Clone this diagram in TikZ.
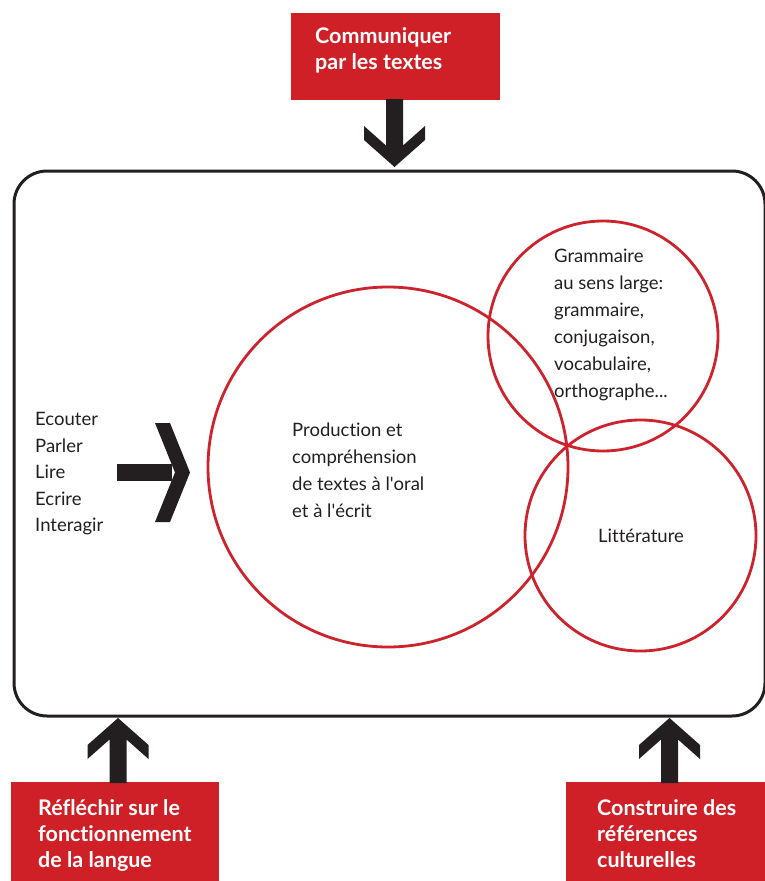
\documentclass[tikz,border=0pt]{standalone}
\usepackage{fontspec}
\setmainfont{Lato}[Ligatures=NoCommon]
\definecolor{boxred}{RGB}{207,32,39}
\definecolor{circred}{RGB}{204,35,45}
\definecolor{ink}{RGB}{35,31,32}
\newcommand{\ChevDown}[3]{% cx, tip y, shaft start y
  \fill[ink] (#1-8.5,#3) -- (#1-8.5,#2-21.5) -- (#1-30.5,#2-41) -- (#1-30.5,#2-27) -- (#1,#2)
    -- (#1+30.5,#2-27) -- (#1+30.5,#2-41) -- (#1+8.5,#2-21.5) -- (#1+8.5,#3) -- cycle;}
\newcommand{\ChevUp}[3]{% cx, tip y, shaft start y
  \fill[ink] (#1-8.5,#3) -- (#1-8.5,#2+21.5) -- (#1-30.5,#2+41) -- (#1-30.5,#2+27) -- (#1,#2)
    -- (#1+30.5,#2+27) -- (#1+30.5,#2+41) -- (#1+8.5,#2+21.5) -- (#1+8.5,#3) -- cycle;}
\begin{document}
\begin{tikzpicture}[x=1pt,y=-1pt,
  redbox/.style={fill=boxred, draw=none, inner sep=0pt, anchor=north west},
  boxtext/.style={text=white, font=\fontsize{21.5}{26}\selectfont\bfseries, align=left, anchor=base west, inner sep=0pt},
  bodytext/.style={text=ink, font=\fontsize{18.5}{26.7}\selectfont, align=left, anchor=base west, inner sep=0pt},
  ring/.style={draw=circred, line width=2.8pt}]
\useasboundingbox (0,0) rectangle (764,881);
% main frame
\draw[ink, line width=3pt, rounded corners=33pt] (14,171) rectangle (765,716);
% circles
\draw[ring] (388,467) circle[radius=180];
\draw[ring] (603,336) circle[radius=115];
\draw[ring] (640.5,535.5) circle[radius=115.5];
% red boxes
\node[redbox, minimum width=209, minimum height=87] (top) at (291,13) {};
\node[redbox, minimum width=208, minimum height=103] (bl) at (11,782) {};
\node[redbox, minimum width=204, minimum height=103] (br) at (566,782) {};
\node[boxtext] (toptxt) at (315,69) {Communiquer\\par les textes};
\node[boxtext] (bltxt) at (38,867) {Réfléchir sur le\\fonctionnement\\de la langue};
\node[boxtext] (brtxt) at (597,867) {Construire des\\références\\culturelles};
% arrows
\ChevDown{394.5}{167}{99}
\ChevUp{118}{718}{783}
\ChevUp{669.5}{718}{783}
% right chevron
\fill[ink] (117,464) rectangle (172,481);
\fill[ink] (155,423) -- (170,423) -- (190,472.5) -- (170,522) -- (155,522) -- (175,472.5) -- cycle;
% texts
\node[bodytext, font=\fontsize{18.5}{26.5}\selectfont] (skills) at (35,531.7) {Ecouter\\Parler\\Lire\\Ecrire\\Interagir};
\node[bodytext] (prod) at (292,517) {Production et\\compréhension\\de textes à l\textquotesingle oral\\et à l\textquotesingle écrit};
\node[bodytext, font=\fontsize{18.5}{27}\selectfont] (gram) at (554,397) {Grammaire\\au sens large:\\grammaire,\\conjugaison,\\vocabulaire,\\orthographe...};
\node[bodytext, anchor=base] (lit) at (641,542) {Littérature};
\end{tikzpicture}
\end{document}
